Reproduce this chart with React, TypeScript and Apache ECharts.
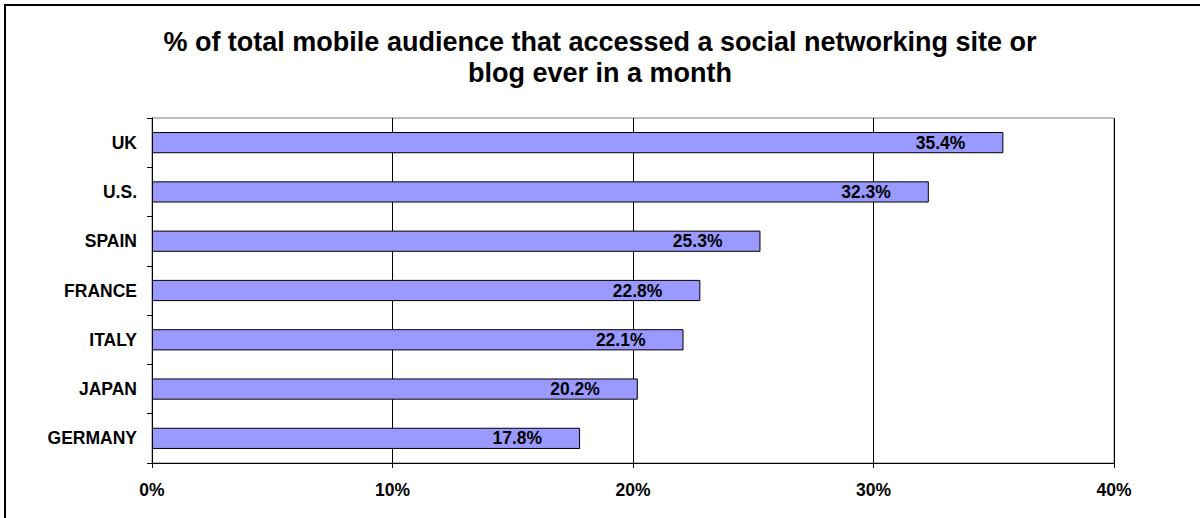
import React, { useEffect, useRef } from "react";
import * as echarts from "echarts";

const categories = ["UK", "U.S.", "SPAIN", "FRANCE", "ITALY", "JAPAN", "GERMANY"];
const values = [35.4, 32.3, 25.3, 22.8, 22.1, 20.2, 17.8];
const titleText = "% of total mobile audience that accessed a social networking site or\nblog ever in a month";

export default function App() {
  const ref = useRef<HTMLDivElement>(null);
  useEffect(() => {
    document.body.style.margin = "0";
    const chart = echarts.init(ref.current!, null, { renderer: "svg" });
    const font = "Arial, 'Liberation Sans', sans-serif";
    chart.setOption({
      animation: false,
      backgroundColor: "#ffffff",
      title: {
        text: titleText,
        left: "center",
        top: 21,
        textStyle: {
          fontFamily: font,
          fontWeight: "bold",
          fontSize: 27,
          lineHeight: 31,
          color: "#000",
        },
      },
      graphic: [
        {
          type: "polyline",
          shape: { points: [[5, 600], [5, 5], [1300, 5]] },
          style: { stroke: "#000", lineWidth: 2, fill: null },
          silent: true,
        },
      ],
      grid: {
        left: 152,
        right: 86,
        top: 118,
        bottom: 55,
        show: true,
        borderColor: "#808080",
        borderWidth: 1,
        backgroundColor: "#fff",
      },
      xAxis: {
        type: "value",
        min: 0,
        max: 40,
        interval: 10,
        axisLine: { show: true, lineStyle: { color: "#000", width: 1 } },
        axisTick: { show: true, length: 5, lineStyle: { color: "#000" } },
        splitLine: { show: true, lineStyle: { color: "#000", width: 1 } },
        axisLabel: {
          formatter: "{value}%",
          fontFamily: font,
          fontWeight: "bold",
          fontSize: 17.5,
          color: "#000",
          margin: 18,
        },
      },
      yAxis: {
        type: "category",
        data: categories,
        inverse: true,
        axisLine: { show: true, lineStyle: { color: "#000", width: 1 } },
        axisTick: { show: true, length: 5, lineStyle: { color: "#000" } },
        axisLabel: {
          fontFamily: font,
          fontWeight: "bold",
          fontSize: 17.5,
          color: "#000",
          margin: 15,
        },
      },
      series: [
        {
          type: "bar",
          data: values,
          barCategoryGap: "57%",
          itemStyle: { color: "#9999FF", borderColor: "#000", borderWidth: 1 },
          label: {
            show: true,
            position: "insideRight",
            distance: 38,
            formatter: (p: any) => p.value.toFixed(1) + "%",
            fontFamily: font,
            fontWeight: "bold",
            fontSize: 17.5,
            color: "#000",
          },
        },
      ],
    });
    return () => chart.dispose();
  }, []);
  return <div ref={ref} style={{ width: 1200, height: 518 }} />;
}
